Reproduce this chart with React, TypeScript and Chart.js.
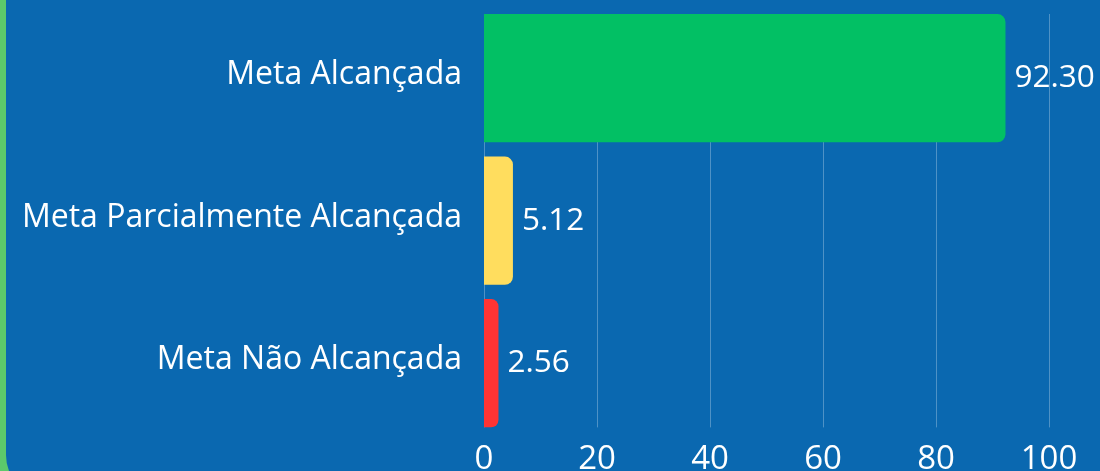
import React, { useEffect, useRef } from "react";
import { Chart, registerables } from "chart.js";

Chart.register(...registerables);

const categories = ["Meta Alcançada", "Meta Parcialmente Alcançada", "Meta Não Alcançada"];
const values = [92.3, 5.12, 2.56];
const barColors = ["#02C064", "#FFDD5E", "#FF3434"];
const xMin = 0;
const xMax = 100;
const xStep = 20;

const FONT = "'Open Sans', 'Noto Sans', sans-serif";

const valueLabels = {
  id: "valueLabels",
  afterDatasetsDraw(chart: any) {
    const ctx = chart.ctx;
    const meta = chart.getDatasetMeta(0);
    ctx.save();
    ctx.font = `31.5px ${FONT}`;
    ctx.fillStyle = "#ffffff";
    ctx.textAlign = "left";
    ctx.textBaseline = "middle";
    meta.data.forEach((bar: any, i: number) => {
      ctx.fillText(values[i].toFixed(2), bar.x + 9, bar.y);
    });
    ctx.restore();
  },
};

const insetGrid = {
  id: "insetGrid",
  beforeDatasetsDraw(chart: any) {
    const ctx = chart.ctx;
    const xs = chart.scales.x;
    const { top, bottom } = chart.chartArea;
    ctx.save();
    ctx.strokeStyle = "rgba(255,255,255,0.28)";
    ctx.lineWidth = 1;
    xs.ticks.forEach((_t: any, i: number) => {
      const px = Math.round(xs.getPixelForTick(i)) + 0.5;
      ctx.beginPath();
      ctx.moveTo(px, top + 7);
      ctx.lineTo(px, bottom - 7);
      ctx.stroke();
    });
    ctx.restore();
  },
};

export default function App() {
  const ref = useRef<HTMLCanvasElement>(null);

  useEffect(() => {
    if (!ref.current) return;
    const chart = new Chart(ref.current, {
      type: "bar",
      data: {
        labels: categories,
        datasets: [
          {
            data: values,
            backgroundColor: barColors,
            borderWidth: 0,
            borderRadius: 8,
            borderSkipped: "start",
            barPercentage: 0.9,
            categoryPercentage: 1,
          },
        ],
      },
      options: {
        indexAxis: "y",
        animation: false,
        responsive: false,
        maintainAspectRatio: false,
        layout: { padding: { top: 7, right: 51, bottom: 16, left: 0 } },
        plugins: { legend: { display: false }, tooltip: { enabled: false } },
        scales: {
          x: {
            min: xMin,
            max: xMax,
            ticks: { stepSize: xStep, color: "#ffffff", font: { family: FONT, size: 33 }, padding: 5 },
            grid: { display: false, drawTicks: false },
            border: { display: false },
          },
          y: {
            ticks: { color: "#ffffff", font: { family: FONT, size: 32 }, padding: 22, labelOffset: -3 },
            grid: { display: false, drawTicks: false },
            border: { display: false },
            afterFit(scale: any) {
              scale.width = 484;
              scale.paddingTop = 0;
              scale.paddingBottom = 0;
            },
          },
        },
      },
      plugins: [insetGrid, valueLabels],
    });
    return () => chart.destroy();
  }, []);

  return (
    <div style={{ position: "fixed", left: 0, top: 0, width: 1100, height: 471, overflow: "hidden", background: "#5CC96B" }}>
      <div
        style={{
          position: "absolute",
          left: 6,
          top: -60,
          width: 1200,
          height: 559,
          background: "#0A68B0",
          borderRadius: 44,
        }}
      />
      <canvas ref={ref} width={1100} height={500} style={{ position: "absolute", left: 0, top: 0 }} />
    </div>
  );
}
